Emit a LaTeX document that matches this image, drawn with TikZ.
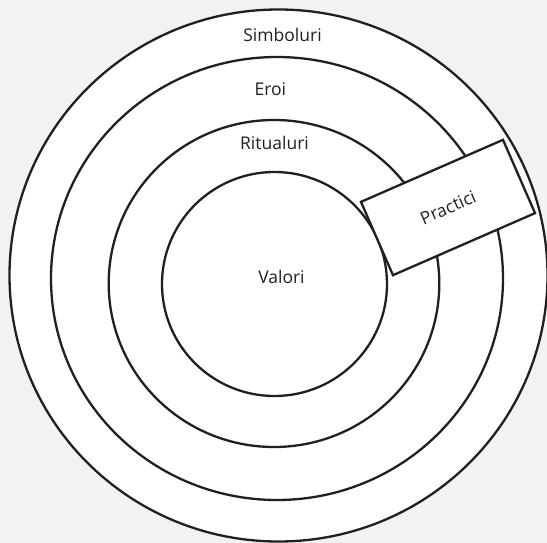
\documentclass[tikz,border=0pt]{standalone}
\usepackage{fontspec}
\setmainfont{Open Sans}
\definecolor{ink}{HTML}{231F20}
\definecolor{bg}{HTML}{F1F2F4}
\begin{document}
\begin{tikzpicture}[x=1pt,y=-1pt,
  ring/.style={draw=ink,line width=2.3pt,fill=white},
  lbl/.style={text=ink,font=\fontsize{17.5}{20}\selectfont,inner sep=0pt}]
\useasboundingbox (0,0) rectangle (547,543);
\fill[bg] (0,0) rectangle (547,543);
\clip (0,0) rectangle (547,543);
\draw[ring] (278.5,275.5) ellipse [x radius=269, y radius=266];
\draw[ring] (277,278.5) ellipse [x radius=226, y radius=221.5];
\draw[ring] (274,283.5) ellipse [x radius=165.3, y radius=163.5];
\draw[ring] (274.5,284) ellipse [x radius=112.5, y radius=112];
\node[lbl] (simb) at (282.5,35) {Simboluri};
\node[lbl] (eroi) at (270.3,89) {Eroi};
\node[lbl] (rit) at (274.5,143) {Ritualuri};
\node[lbl] (val) at (281.5,277) {Valori};
\node[draw=ink,line width=2.3pt,fill=white,text=ink,font=\fontsize{17.5}{20}\selectfont,
  minimum width=155pt,minimum height=80pt,inner sep=0pt,rotate=23.6] (prac) at (448,207.5) {Practici};
\end{tikzpicture}
\end{document}
